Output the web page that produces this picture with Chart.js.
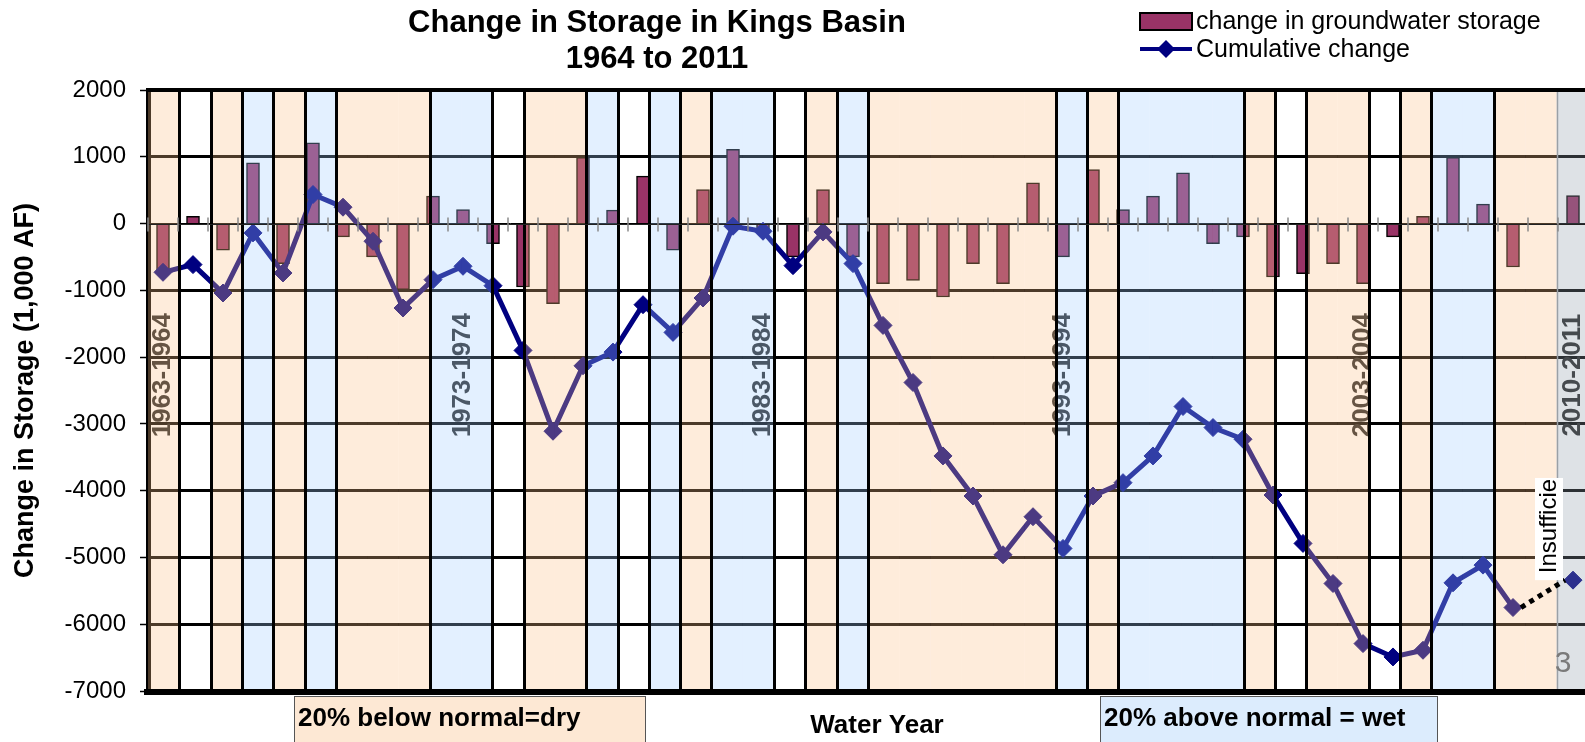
<!DOCTYPE html>
<html>
<head>
<meta charset="utf-8">
<title>Change in Storage in Kings Basin</title>
<script src="https://cdn.jsdelivr.net/npm/chart.js@4.4.1/dist/chart.umd.min.js"></script>
<style>
  html, body { margin: 0; padding: 0; background: #fff; overflow: hidden; }
  #wrap { width: 1600px; height: 742px; }
</style>
</head>
<body>
<div id="wrap"><canvas id="storageChart" width="1600" height="742"></canvas></div>
<script>
const waterYears = [
    '1963-1964', '1964-1965', '1965-1966', '1966-1967', '1967-1968', '1968-1969',
    '1969-1970', '1970-1971', '1971-1972', '1972-1973', '1973-1974', '1974-1975',
    '1975-1976', '1976-1977', '1977-1978', '1978-1979', '1979-1980', '1980-1981',
    '1981-1982', '1982-1983', '1983-1984', '1984-1985', '1985-1986', '1986-1987',
    '1987-1988', '1988-1989', '1989-1990', '1990-1991', '1991-1992', '1992-1993',
    '1993-1994', '1994-1995', '1995-1996', '1996-1997', '1997-1998', '1998-1999',
    '1999-2000', '2000-2001', '2001-2002', '2002-2003', '2003-2004', '2004-2005',
    '2005-2006', '2006-2007', '2007-2008', '2008-2009', '2009-2010', '2010-2011'
];

// change in groundwater storage, 1,000 AF (no value for 2009-2010)
const storageChange = [
    -740, 110, -400, 910, -600, 1210, -200, -500, -990, 410, 210, -300,
    -950, -1200, 990, 200, 710, -400, 510, 1110, -80, -500, 510, -500,
    -900, -850, -1100, -600, -900, 610, -500, 810, 210, 410, 760, -300,
    -200, -800, -750, -600, -900, -200, 110, 990, 290, -650, null, 420
];

const cumulativeChange = [
    -730, -615, -1040, -140, -740, 435, 245, -265, -1265, -840, -640, -930,
    -1900, -3110, -2130, -1925, -1215, -1630, -1115, -40, -115, -630, -125, -600,
    -1525, -2380, -3480, -4080, -4960, -4390, -4865, -4080, -3880, -3480, -2740, -3055,
    -3230, -4065, -4790, -5390, -6290, -6490, -6390, -5380, -5115, -5750, null, -5340
];

const yTicks = [2000, 1000, 0, -1000, -2000, -3000, -4000, -5000, -6000, -7000];

const labeledYears = ['1963-1964', '1973-1974', '1983-1984', '1993-1994', '2003-2004', '2010-2011'];

// background table columns: D = dry, W = wet, N = normal, G = insufficient data
const yearTypes = [
    'D', 'N', 'D', 'W', 'D', 'W', 'D', 'D', 'D', 'W', 'W', 'N',
    'D', 'D', 'W', 'N', 'W', 'D', 'W', 'W', 'N', 'D', 'W', 'D',
    'D', 'D', 'D', 'D', 'D', 'W', 'D', 'W', 'W', 'W', 'W', 'D',
    'N', 'D', 'D', 'N', 'D', 'W', 'W', 'D', 'D', 'G'
];

const FONT = "'Liberation Sans', Arial, Helvetica, sans-serif";
const BAR_COLOR = '#993366';
const LINE_COLOR = '#000080';

const tint = {
    D: 'rgba(252, 192, 135, 0.3)',
    W: 'rgba(162, 205, 255, 0.3)',
    G: 'rgba(145, 158, 172, 0.3)'
};

function strokeLine(ctx, x0, y0, x1, y1) {
    ctx.beginPath();
    ctx.moveTo(x0, y0);
    ctx.lineTo(x1, y1);
    ctx.stroke();
}

const kingsOverlay = {
    id: 'kingsOverlay',
    beforeDatasetsDraw(chart) {
        const { ctx, scales } = chart;
        ctx.save();
        ctx.font = `bold 26px ${FONT}`;
        ctx.fillStyle = '#262626';
        ctx.textAlign = 'center';
        ctx.textBaseline = 'middle';
        const yMid = scales.y.getPixelForValue(-2270);
        labeledYears.forEach(lbl => {
            const x = scales.x.getPixelForValue(waterYears.indexOf(lbl));
            ctx.save();
            ctx.translate(x, yMid);
            ctx.rotate(-Math.PI / 2);
            ctx.fillText(lbl, 0, 0);
            ctx.restore();
        });
        ctx.restore();
    },
    afterDatasetsDraw(chart) {
        const { ctx, chartArea: a, scales } = chart;
        const band = scales.band;
        ctx.save();

        // tinted table columns laid over the plot
        yearTypes.forEach((t, k) => {
            if (!tint[t]) return;
            const x0 = band.getPixelForValue(k);
            const x1 = band.getPixelForValue(k + 1);
            ctx.fillStyle = tint[t];
            ctx.fillRect(x0, a.top, x1 - x0, a.bottom - a.top);
        });

        // column borders where the year type changes
        for (let k = 1; k < yearTypes.length; k++) {
            if (yearTypes[k] === yearTypes[k - 1]) continue;
            const x = Math.round(band.getPixelForValue(k)) + 0.5;
            if (yearTypes[k] === 'G') {
                ctx.strokeStyle = '#9aa0a6';
                ctx.lineWidth = 1.5;
            } else {
                ctx.strokeStyle = '#000';
                ctx.lineWidth = 3;
            }
            strokeLine(ctx, x, a.top, x, a.bottom);
        }

        // zero line with category ticks
        const y0 = Math.round(scales.y.getPixelForValue(0)) + 0.5;
        ctx.strokeStyle = '#222';
        ctx.lineWidth = 1;
        strokeLine(ctx, a.left, y0, a.right, y0);
        ctx.strokeStyle = '#8a8a8a';
        ctx.lineWidth = 1.5;
        for (let i = 0; i <= waterYears.length; i++) {
            const x = Math.round(scales.x.getPixelForValue(i - 0.5));
            strokeLine(ctx, x, y0 - 7, x, y0 + 7);
        }

        // dotted bridge over the missing year, kept black on top of the tint
        const pts = chart.getDatasetMeta(0).data;
        ctx.strokeStyle = '#000';
        ctx.lineWidth = 5;
        ctx.setLineDash([5, 5]);
        cumulativeChange.forEach((v, i) => {
            if (v !== null) return;
            let p = i - 1, n = i + 1;
            while (p >= 0 && cumulativeChange[p] === null) p--;
            while (n < cumulativeChange.length && cumulativeChange[n] === null) n++;
            if (p < 0 || n >= cumulativeChange.length) return;
            strokeLine(ctx, pts[p].x + 8, pts[p].y, pts[n].x - 8, pts[n].y);
        });
        ctx.setLineDash([]);

        // plot frame
        ctx.strokeStyle = '#000';
        ctx.lineWidth = 4;
        strokeLine(ctx, a.left, a.top, a.right, a.top);
        ctx.lineWidth = 6;
        strokeLine(ctx, a.left - 4, a.bottom + 1, a.right, a.bottom + 1);

        // "Insufficient data" note, clipped in its white box
        const xi = scales.x.getPixelForValue(46) + 6;
        const yTop = scales.y.getPixelForValue(-3810);
        const yBot = scales.y.getPixelForValue(-5340);
        ctx.fillStyle = '#fff';
        ctx.fillRect(xi - 14, yTop, 28, yBot - yTop);
        ctx.save();
        ctx.beginPath();
        ctx.rect(xi - 14, yTop, 28, yBot - yTop);
        ctx.clip();
        ctx.translate(xi, yBot - 7);
        ctx.rotate(-Math.PI / 2);
        ctx.font = `24px ${FONT}`;
        ctx.fillStyle = '#000';
        ctx.textAlign = 'left';
        ctx.textBaseline = 'middle';
        ctx.fillText('Insufficient data', 0, 0);
        ctx.restore();

        ctx.restore();
    },
    afterDraw(chart) {
        const { ctx } = chart;
        ctx.save();
        ctx.fillStyle = '#000';
        ctx.textBaseline = 'middle';

        // title
        ctx.textAlign = 'center';
        ctx.font = `bold 31px ${FONT}`;
        ctx.fillText('Change in Storage in Kings Basin', 657, 23);
        ctx.fillText('1964 to 2011', 657, 59);

        // legend
        ctx.fillStyle = BAR_COLOR;
        ctx.fillRect(1140, 13, 52, 17);
        ctx.strokeStyle = '#000';
        ctx.lineWidth = 2;
        ctx.strokeRect(1140, 13, 52, 17);
        ctx.strokeStyle = LINE_COLOR;
        ctx.lineWidth = 4;
        strokeLine(ctx, 1140, 49, 1192, 49);
        ctx.fillStyle = LINE_COLOR;
        ctx.beginPath();
        ctx.moveTo(1166, 40);
        ctx.lineTo(1175, 49);
        ctx.lineTo(1166, 58);
        ctx.lineTo(1157, 49);
        ctx.closePath();
        ctx.fill();
        ctx.fillStyle = '#000';
        ctx.textAlign = 'left';
        ctx.font = `25px ${FONT}`;
        ctx.fillText('change in groundwater storage', 1196, 22);
        ctx.fillText('Cumulative change', 1196, 50);

        // notes under the axis
        ctx.fillStyle = '#fde8d4';
        ctx.fillRect(294, 696, 351, 46);
        ctx.fillStyle = '#dcecfd';
        ctx.fillRect(1100, 696, 337, 46);
        ctx.strokeStyle = '#555';
        ctx.lineWidth = 1;
        ctx.strokeRect(294.5, 696.5, 351, 50);
        ctx.strokeRect(1100.5, 696.5, 337, 50);
        ctx.fillStyle = '#000';
        ctx.font = `bold 26px ${FONT}`;
        ctx.textAlign = 'left';
        ctx.fillText('20% below normal=dry', 298, 719);
        ctx.fillText('20% above normal = wet', 1104, 719);
        ctx.textAlign = 'center';
        ctx.fillText('Water Year', 877, 726);

        // slide number
        ctx.fillStyle = '#7a7a7a';
        ctx.font = `30px ${FONT}`;
        ctx.fillText('3', 1563, 664);

        ctx.restore();
    }
};

new Chart(document.getElementById('storageChart'), {
    type: 'bar',
    data: {
        labels: waterYears,
        datasets: [
            {
                type: 'line',
                label: 'Cumulative change',
                data: cumulativeChange,
                borderColor: LINE_COLOR,
                backgroundColor: LINE_COLOR,
                borderWidth: 5,
                pointStyle: 'rectRot',
                pointRadius: 9,
                pointBorderWidth: 1,
                pointBackgroundColor: LINE_COLOR,
                pointBorderColor: LINE_COLOR,
                spanGaps: true,
                tension: 0,
                order: 1,
                segment: {
                    // the gap is redrawn dotted above the tint by the plugin
                    borderColor: c => (c.p0.skip || c.p1.skip) ? 'rgba(0,0,0,0)' : undefined
                }
            },
            {
                type: 'bar',
                label: 'change in groundwater storage',
                data: storageChange,
                backgroundColor: BAR_COLOR,
                borderColor: '#000',
                borderWidth: 1.5,
                barThickness: 13,
                order: 2
            }
        ]
    },
    options: {
        responsive: false,
        animation: false,
        events: [],
        layout: {
            padding: { left: 0, top: 90, right: 12, bottom: 51 }
        },
        plugins: {
            legend: { display: false },
            title: { display: false },
            tooltip: { enabled: false }
        },
        scales: {
            x: {
                type: 'category',
                offset: true,
                display: false
            },
            band: {
                type: 'linear',
                axis: 'x',
                position: 'bottom',
                offset: false,
                grid: { offset: false },
                min: 0,
                max: yearTypes.length,
                display: false
            },
            y: {
                min: -7000,
                max: 2000,
                afterFit(scale) { scale.width = 148; },
                afterBuildTicks(scale) { scale.ticks = yTicks.map(v => ({ value: v })); },
                ticks: {
                    color: '#000',
                    padding: 14,
                    font: { family: FONT, size: 24 },
                    callback: v => String(v)
                },
                grid: {
                    color: '#000',
                    lineWidth: c => (c.tick && c.tick.value === 0) ? 1 : 3,
                    tickLength: 8,
                    tickWidth: 1.5,
                    tickColor: '#000'
                },
                border: { display: true, color: '#000', width: 5 },
                title: {
                    display: true,
                    text: 'Change in Storage (1,000 AF)',
                    color: '#000',
                    font: { family: FONT, size: 27, weight: 'bold' },
                    padding: { top: 9, bottom: 0 }
                }
            }
        }
    },
    plugins: [kingsOverlay]
});
</script>
</body>
</html>
